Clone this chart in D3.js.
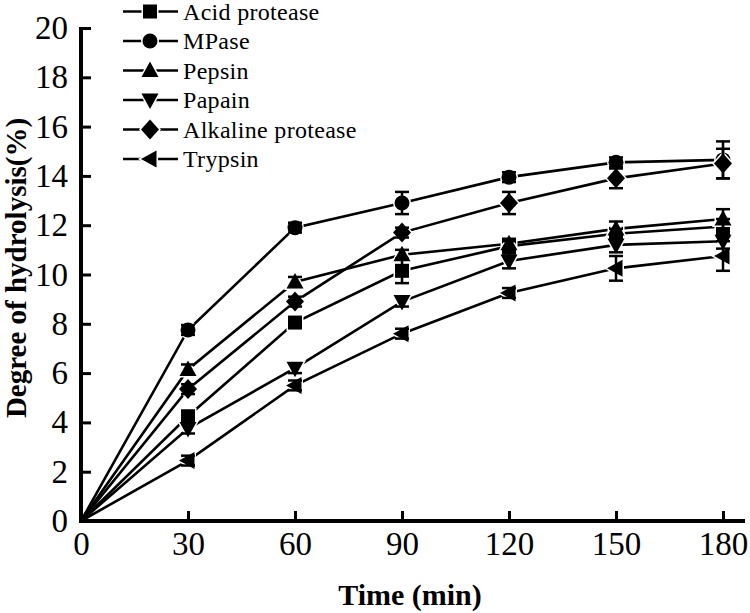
<!DOCTYPE html>
<html><head><meta charset="utf-8">
<script src="https://cdn.jsdelivr.net/npm/d3@7"></script>
</head><body style="margin:0;background:#fff"><svg id="c" width="750" height="613" style="display:block"></svg>
<script>
const times = [0, 30, 60, 90, 120, 150, 180];
const seriesNames = ["Acid protease", "MPase", "Pepsin", "Papain", "Alkaline protease", "Trypsin"];
const symbols = ["square", "circle", "triUp", "triDown", "diamond", "triLeft"];
const acidProtease = [0, 4.25, 8.05, 10.15, 11.15, 11.65, 11.95];
const mpase        = [0, 7.75, 11.9, 12.9, 13.95, 14.55, 14.65];
const pepsin       = [0, 6.15, 9.7, 10.8, 11.25, 11.85, 12.25];
const papain       = [0, 3.75, 6.2, 8.9, 10.55, 11.2, 11.35];
const alkaline     = [0, 5.35, 8.9, 11.7, 12.9, 13.9, 14.5];
const trypsin      = [0, 2.45, 5.5, 7.6, 9.25, 10.25, 10.75];
const errAcid      = [0, 0.2, 0.2, 0.5, 0.2, 0.2, 0.3];
const errMpase     = [0, 0.2, 0.2, 0.45, 0.2, 0.2, 0.75];
const errPepsin    = [0, 0.2, 0.2, 0.2, 0.2, 0.3, 0.4];
const errPapain    = [0, 0.2, 0.2, 0.2, 0.3, 0.3, 0.3];
const errAlkaline  = [0, 0.2, 0.2, 0.2, 0.45, 0.4, 0.6];
const errTrypsin   = [0, 0.2, 0.2, 0.2, 0.2, 0.5, 0.6];
const xTicks = [0, 30, 60, 90, 120, 150, 180];
const yTicks = [0, 2, 4, 6, 8, 10, 12, 14, 16, 18, 20];

const values = [acidProtease, mpase, pepsin, papain, alkaline, trypsin];
const errors = [errAcid, errMpase, errPepsin, errPapain, errAlkaline, errTrypsin];

const svg = d3.select("#c");
const x = d3.scaleLinear().domain([0, 180]).range([81, 723]);
const y = d3.scaleLinear().domain([0, 20]).range([521, 28]);
const FONT = '"Liberation Serif"';

function symPath(t) {
  switch (t) {
    case "square": return "M-7,-7H7V7H-7Z";
    case "circle": return "M-7.5,0A7.5,7.5 0 1,0 7.5,0A7.5,7.5 0 1,0 -7.5,0Z";
    case "triUp": return "M0,-9L8.5,6.5L-8.5,6.5Z";
    case "triDown": return "M0,9L8.5,-6.5L-8.5,-6.5Z";
    case "diamond": return "M0,-10L9,0L0,10L-9,0Z";
    case "triLeft": return "M-9,0L6.5,-8.5L6.5,8.5Z";
  }
}

const line = d3.line().x((d, i) => x(times[i])).y(d => y(d));
values.forEach(v => {
  svg.append("path").attr("d", line(v)).attr("fill", "none")
    .attr("stroke", "#000").attr("stroke-width", 2.6);
});
values.forEach((v, s) => {
  svg.append("g").selectAll("path").data(v.slice(1)).join("path")
    .attr("transform", (d, i) => `translate(${x(times[i + 1])},${y(d)})`)
    .attr("d", symPath(symbols[s]))
    .attr("fill", "#000").attr("stroke", "#fff").attr("stroke-width", 3)
    .attr("paint-order", "stroke");
});
values.forEach((v, s) => {
  const g = svg.append("g").attr("stroke", "#000").attr("stroke-width", 2.5);
  v.forEach((d, i) => {
    const e = errors[s][i];
    if (!e) return;
    const cx = x(times[i]);
    g.append("line").attr("x1", cx).attr("x2", cx).attr("y1", y(d - e)).attr("y2", y(d + e));
    [d - e, d + e].forEach(val => g.append("line").attr("x1", cx - 7).attr("x2", cx + 7).attr("y1", y(val)).attr("y2", y(val)));
  });
});

const xAxis = d3.axisBottom(x).tickValues(xTicks).tickSize(-10).tickPadding(14).tickFormat(d3.format("d"));
const gx = svg.append("g").attr("transform", "translate(0,521)").call(xAxis);
gx.select(".domain").remove();
gx.selectAll(".tick line").attr("stroke", "#000").attr("stroke-width", 3);
gx.selectAll(".tick text").style("font-family", FONT).style("font-size", "33px").attr("fill", "#000").attr("dy", "0.72em").attr("y", 10);
const yAxis = d3.axisLeft(y).tickValues(yTicks).tickSize(-10).tickPadding(14).tickFormat(d3.format("d"));
const gy = svg.append("g").attr("transform", "translate(81,0)").call(yAxis);
gy.select(".domain").remove();
gy.selectAll(".tick line").attr("stroke", "#000").attr("stroke-width", 3);
gy.selectAll(".tick text").style("font-family", FONT).style("font-size", "33px").attr("fill", "#000").attr("x", -13);
svg.append("line").attr("x1", 81).attr("x2", 81).attr("y1", 27).attr("y2", 523).attr("stroke", "#000").attr("stroke-width", 4);
svg.append("line").attr("x1", 79).attr("x2", 745).attr("y1", 521).attr("y2", 521).attr("stroke", "#000").attr("stroke-width", 4);

svg.append("text").attr("x", 410).attr("y", 605).attr("text-anchor", "middle")
  .style("font-family", FONT).style("font-size", "30px").style("font-weight", "bold").text("Time (min)");
svg.append("text").attr("transform", "translate(26,268) rotate(-90)").attr("text-anchor", "middle")
  .style("font-family", FONT).style("font-size", "29px").style("font-weight", "bold").text("Degree of hydrolysis(%)");

const lg = svg.append("g");
seriesNames.forEach((n, i) => {
  const cy = 11.5 + i * 29.5;
  lg.append("line").attr("x1", 123).attr("x2", 178).attr("y1", cy).attr("y2", cy).attr("stroke", "#000").attr("stroke-width", 2.6);
  lg.append("path").attr("transform", `translate(150,${cy})`).attr("d", symPath(symbols[i]))
    .attr("fill", "#000").attr("stroke", "#fff").attr("stroke-width", 3).attr("paint-order", "stroke");
  lg.append("text").attr("x", 183).attr("y", cy + 8).style("font-family", FONT).style("font-size", "24px")
    .style("letter-spacing", "0.3px").text(n);
});
</script></body></html>
